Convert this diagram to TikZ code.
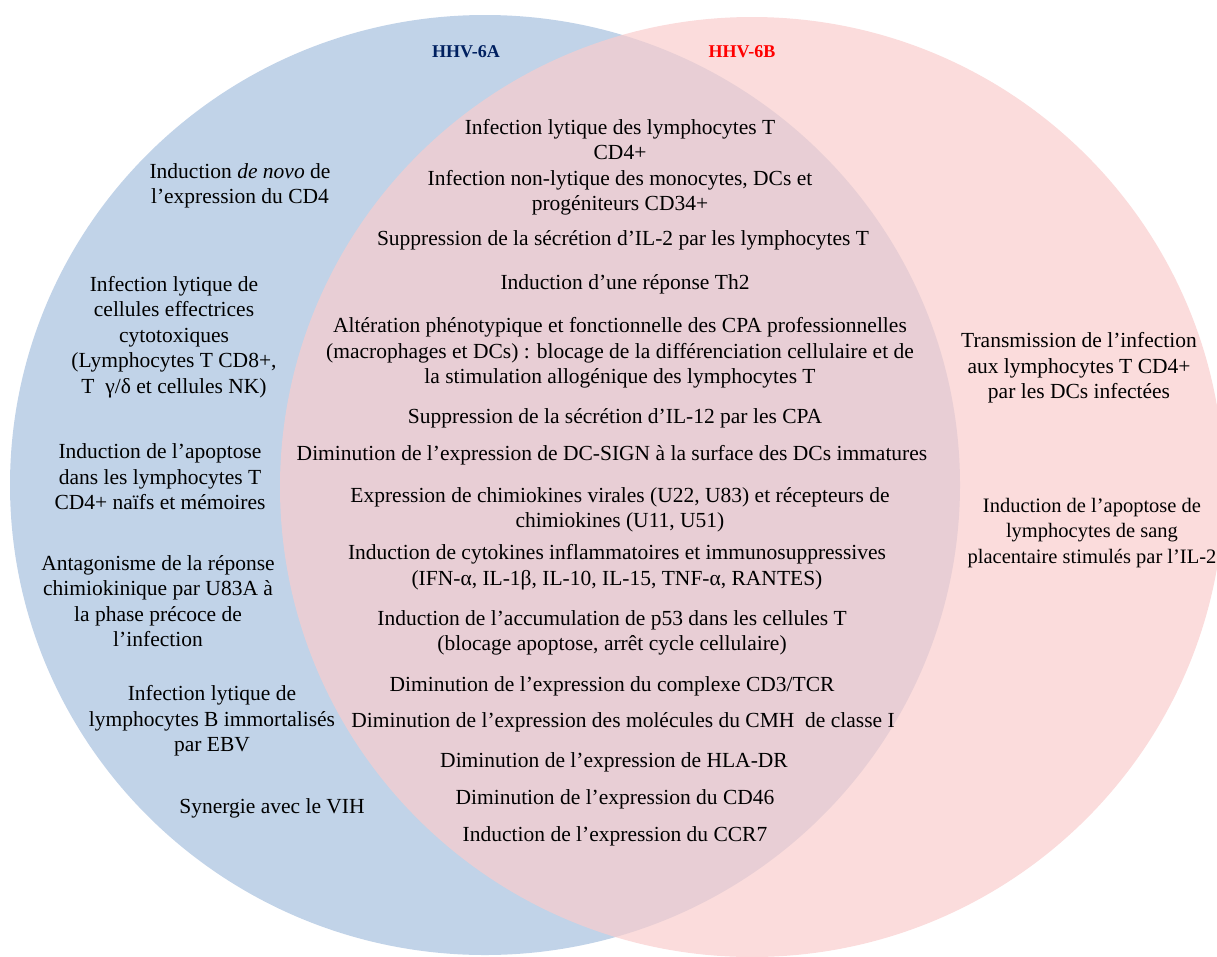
\documentclass[tikz,border=0pt]{standalone}
\usepackage{fontspec}
\setmainfont{Liberation Serif}
\definecolor{setA}{RGB}{193,211,232}
\definecolor{setB}{RGB}{249,205,205}
\definecolor{navyA}{RGB}{0,32,96}
\begin{document}
\begin{tikzpicture}[x=1pt,y=-1pt,
  item/.style={align=center,font=\fontsize{21.5}{25.5}\selectfont,inner sep=0pt},
  title/.style={font=\fontsize{18}{20}\selectfont\bfseries,inner sep=0pt}]
\useasboundingbox (0,0) rectangle (1217,956);

% the two sets
\fill[setA] (485,485) ellipse (475 and 470);
\fill[setB,opacity=0.7] (752,487) ellipse (472 and 470);

\node[title,text=navyA] (hhvA) at (466,52) {HHV-6A};
\node[title,text=red] (hhvB) at (742,52) {HHV-6B};

% HHV-6A only
\node[item] (novo) at (240,186) {Induction \textit{de novo} de\\l’expression du CD4};
\node[item] (cytotox) at (174,337) {Infection lytique de\\cellules effectrices\\cytotoxiques\\(Lymphocytes T CD8+,\\T~~γ/δ et cellules NK)};
\node[item] (apoA) at (160,477) {Induction de l’apoptose\\dans les lymphocytes T\\CD4+ naïfs et mémoires};
\node[item] (antag) at (158,601) {Antagonisme de la réponse\\chimiokinique par U83A à\\la phase précoce de\\l’infection};
\node[item] (ebv) at (212,721) {Infection lytique de\\lymphocytes B immortalisés\\par EBV};
\node[item] (vih) at (272,808) {Synergie avec le VIH};

% common to both
\node[item] (lyt) at (620,167) {Infection lytique des lymphocytes T\\CD4+\\Infection non-lytique des monocytes, DCs et\\progéniteurs CD34+};
\node[item] (il2) at (623,240) {Suppression de la sécrétion d’IL-2 par les lymphocytes T};
\node[item] (th2) at (625,284) {Induction d’une réponse Th2};
\node[item] (cpa) at (620,353) {Altération phénotypique et fonctionnelle des CPA professionnelles\\(macrophages et DCs) : blocage de la différenciation cellulaire et de\\la stimulation allogénique des lymphocytes T};
\node[item] (il12) at (615,418) {Suppression de la sécrétion d’IL-12 par les CPA};
\node[item] (sign) at (612,455) {Diminution de l’expression de DC-SIGN à la surface des DCs immatures};
\node[item] (chim) at (620,510) {Expression de chimiokines virales (U22, U83) et récepteurs de\\chimiokines (U11, U51)};
\node[item] (cytok) at (617,567) {Induction de cytokines inflammatoires et immunosuppressives\\(IFN-α, IL-1β, IL-10, IL-15, TNF-α, RANTES)};
\node[item] (p53) at (612,633) {Induction de l’accumulation de p53 dans les cellules T\\(blocage apoptose, arrêt cycle cellulaire)};
\node[item] (cd3) at (612,686) {Diminution de l’expression du complexe CD3/TCR};
\node[item] (cmh) at (623,722) {Diminution de l’expression des molécules du CMH~ de classe I};
\node[item] (hla) at (614,762) {Diminution de l’expression de HLA-DR};
\node[item] (cd46) at (615,799) {Diminution de l’expression du CD46};
\node[item] (ccr7) at (615,836) {Induction de l’expression du CCR7};

% HHV-6B only
\node[item] (trans) at (1079,368) {Transmission de l’infection\\aux lymphocytes T CD4+\\par les DCs infectées};
\node[item,font=\fontsize{20.5}{25.5}\selectfont] (placenta) at (1092,533) {Induction de l’apoptose de\\lymphocytes de sang\\placentaire stimulés par l’IL-2};

\end{tikzpicture}
\end{document}
